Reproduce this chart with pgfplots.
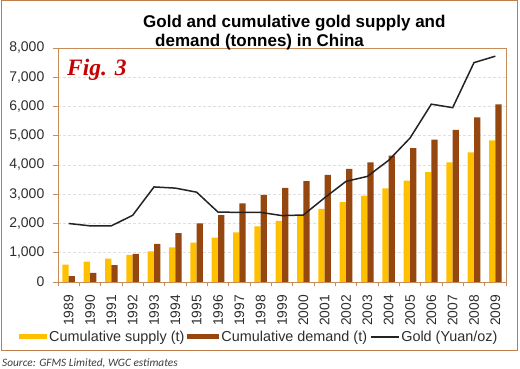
\documentclass[border=0pt]{standalone}
\usepackage{fontspec}
\setmainfont{Liberation Sans}
\newfontfamily\figfont{Liberation Serif}
\newfontfamily\srcfont{Carlito}
\usepackage{pgfplots}
\usepackage{pgfplotstable}
\pgfplotsset{compat=1.18}
\definecolor{supplycol}{RGB}{255,192,0}
\definecolor{demandcol}{RGB}{150,70,15}
\definecolor{framecol}{RGB}{190,125,75}
\definecolor{axiscol}{RGB}{200,140,90}
\definecolor{labcol}{RGB}{45,45,45}
\definecolor{linecol}{RGB}{35,35,35}
\definecolor{figred}{RGB}{200,0,0}
\definecolor{srccol}{RGB}{60,60,60}

\pgfplotstableread{
x s d g
0 590 200 2000
1 700 310 1920
2 800 580 1920
3 930 960 2280
4 1050 1300 3250
5 1180 1670 3210
6 1350 2000 3070
7 1520 2290 2390
8 1700 2690 2380
9 1900 2980 2380
10 2090 3220 2270
11 2270 3450 2290
12 2500 3660 2880
13 2730 3870 3440
14 2950 4090 3610
15 3200 4320 4160
16 3470 4580 4920
17 3760 4870 6080
18 4090 5200 5960
19 4430 5630 7500
20 4840 6070 7720
}\data

\begin{document}
\begin{tikzpicture}[x=1pt,y=1pt]
\useasboundingbox (0,0) rectangle (520,369);
\draw[framecol, line width=1pt] (1,18) rectangle (517,368);
\begin{axis}[
  at={(58pt,87pt)}, anchor=south west,
  scale only axis, width=448pt, height=234pt,
  xmin=-0.5, xmax=20.5, ymin=0, ymax=8000,
  axis line style={draw=axiscol, line width=0.9pt},
  tick pos=left,
  tick align=outside,
  xtick={0,...,20},
  xticklabels={1989,1990,1991,1992,1993,1994,1995,1996,1997,1998,1999,2000,2001,2002,2003,2004,2005,2006,2007,2008,2009},
  major x tick style={draw=none},
  minor xtick={-0.5,0.5,...,20.5},
  minor x tick style={draw=axiscol, line width=0.9pt},
  minor tick length=4pt,
  major tick length=5pt,
  major y tick style={draw=axiscol, line width=0.9pt},
  ytick={0,1000,...,8000},
  ymajorgrids,
  major grid style={draw=gray!25, line width=0.8pt, dash pattern=on 3pt off 2pt},
  /pgf/number format/assume math mode=true,
  /pgf/number format/1000 sep={,},
  yticklabel style={font=\fontsize{14}{14}\selectfont, text=labcol, inner sep=0pt, anchor=east, xshift=-8.5pt},
  xticklabel style={font=\fontsize{13.8}{13.8}\selectfont, text=labcol, inner sep=0pt, rotate=90, anchor=east, xshift=-8pt},
  legend style={at={(axis description cs:-0.087,-0.235)}, anchor=west, draw=none, fill=none,
    inner sep=0pt, font=\fontsize{14.4}{14.4}\selectfont, text=labcol,
    nodes={inner sep=0pt},
    /tikz/every even column/.append style={column sep=3pt},
    /tikz/every odd column/.append style={column sep=2pt}},
  legend columns=3,
]
\addplot[ybar, bar width=6.3pt, bar shift=-3.15pt, fill=supplycol, draw=none,
  legend image code/.code={\fill[supplycol] (0pt,-2.5pt) rectangle (28pt,2.5pt);}]
  table[x=x,y=s]{\data};
\addlegendentry{Cumulative supply (t)}
\addplot[ybar, bar width=6.3pt, bar shift=3.15pt, fill=demandcol, draw=none,
  legend image code/.code={\fill[demandcol] (0pt,-2.5pt) rectangle (32pt,2.5pt);}]
  table[x=x,y=d]{\data};
\addlegendentry{Cumulative demand (t)}
\addplot[sharp plot, draw=linecol, line width=1.5pt, mark=none,
  legend image code/.code={\draw[linecol, line width=1.2pt] (0pt,0pt) -- (28pt,0pt);}]
  table[x=x,y=g]{\data};
\addlegendentry{Gold (Yuan/oz)}
\end{axis}
\node[anchor=base west, inner sep=0pt, font=\bfseries\fontsize{17}{17}\selectfont] at (143,341.7) {Gold and cumulative gold supply and};
\node[anchor=base west, inner sep=0pt, font=\bfseries\fontsize{17}{17}\selectfont] at (155,322.3) {demand (tonnes) in China};
\node[anchor=base west, inner sep=0pt, font=\figfont\bfseries\itshape\fontsize{23.5}{23.5}\selectfont, text=figred] at (67,293) {Fig. 3};
\node[anchor=base west, inner sep=0pt, font=\srcfont\itshape\fontsize{11.3}{11.3}\selectfont, text=srccol] at (2,2.5) {Source: GFMS Limited, WGC estimates};
\end{tikzpicture}
\end{document}
